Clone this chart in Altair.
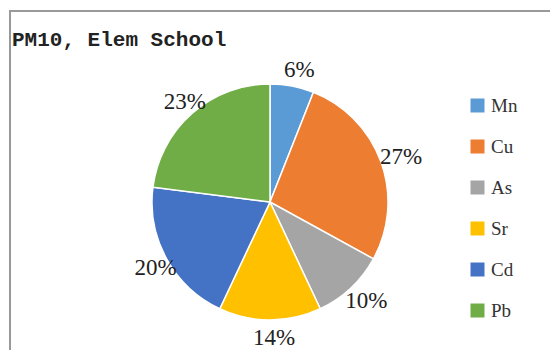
import altair as alt
import pandas as pd

elements = ["Mn", "Cu", "As", "Sr", "Cd", "Pb"]
percents = [6, 27, 10, 14, 20, 23]
colors = ["#5B9BD5", "#ED7D31", "#A5A5A5", "#FFC000", "#4472C4", "#70AD47"]
title_text = "PM10, Elem School"

df = pd.DataFrame({
    "element": elements,
    "pct": percents,
    "idx": list(range(len(elements))),
    "label": [f"{p}%" for p in percents],
})

CX, CY = 262, 194

base = alt.Chart(df).encode(
    theta=alt.Theta("pct:Q", stack=True),
    order=alt.Order("idx:O"),
)

pie = base.mark_arc(stroke="white", strokeWidth=1.5, radius=118).encode(
    x=alt.value(CX), y=alt.value(CY),
    color=alt.Color(
        "element:N",
        scale=alt.Scale(domain=elements, range=colors),
        sort=elements,
        legend=alt.Legend(
            title=None, orient="none", legendX=460, legendY=88,
            symbolType="square", symbolSize=196, symbolStrokeWidth=0,
            labelFont="Liberation Serif", labelFontSize=19, labelColor="#333",
            rowPadding=21, labelOffset=4,
        ),
    ),
)

labels = base.mark_text(radius=135, font="Liberation Serif", fontSize=23, color="#222").encode(
    x=alt.value(CX + 4), y=alt.value(CY + 1), text="label:N"
)

frame = alt.Chart(alt.Data(values=[{"a": 1}])).mark_rect(
    fill="transparent", stroke="#999", strokeWidth=2
).encode(x=alt.value(2), y=alt.value(3), x2=alt.value(700), y2=alt.value(700))

title = alt.Chart(alt.Data(values=[{"t": title_text}])).mark_text(
    align="left", baseline="alphabetic", font="Liberation Mono", fontSize=21,
    fontWeight="bold", color="#222"
).encode(x=alt.value(4), y=alt.value(38), text="t:N")

chart = alt.layer(frame, pie, labels, title).properties(
    width=542, height=342, autosize="none", padding=0
).configure_view(stroke=None)

chart.save("out.html", embed_options={"renderer": "svg", "actions": False})
